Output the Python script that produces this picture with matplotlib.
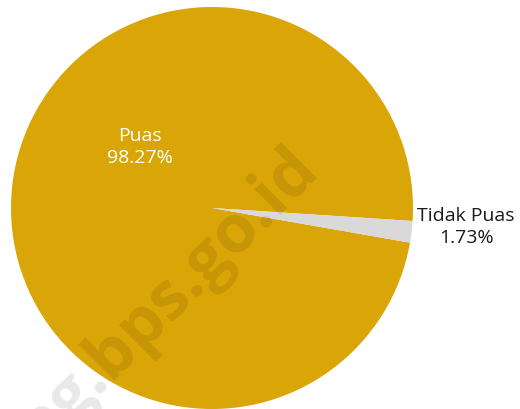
import matplotlib
matplotlib.use("Agg")
import matplotlib.pyplot as plt

categories = ["Puas", "Tidak Puas"]
values = [98.27, 1.73]
colors = ["#D9A507", "#D9D9D9"]

plt.rcParams["font.family"] = ["Open Sans", "DejaVu Sans"]

fig = plt.figure(figsize=(5.2, 4.09), dpi=100)
ax = fig.add_axes([0, 0, 1, 1])

ax.pie(values, colors=colors, startangle=-9.93, counterclock=False,
       radius=1, wedgeprops=dict(linewidth=0))

# pie centre at (212, 208) px, radius 201 px
ax.set_xlim(-212 / 201, (520 - 212) / 201)
ax.set_ylim(-(409 - 208) / 201, 208 / 201)
ax.set_aspect("auto")
ax.axis("off")

# watermark
ax.text(0.54, 0.19, "ng.bps.go.id", rotation=45, rotation_mode="anchor",
        ha="right", va="baseline", fontsize=48, fontweight="bold",
        color="black", alpha=0.09, zorder=5)

ax.text(-0.358, 0.303, f"{categories[0]}\n{values[0]:.2f}%", ha="center",
        va="center", fontsize=14, color="white", linespacing=1.25, zorder=6)
ax.text(1.264, -0.095, f"{categories[1]}\n{values[1]:.2f}%", ha="center",
        va="center", fontsize=14, color="#1a1a1a", linespacing=1.25, zorder=6)

fig.savefig("out.png", dpi=100)
